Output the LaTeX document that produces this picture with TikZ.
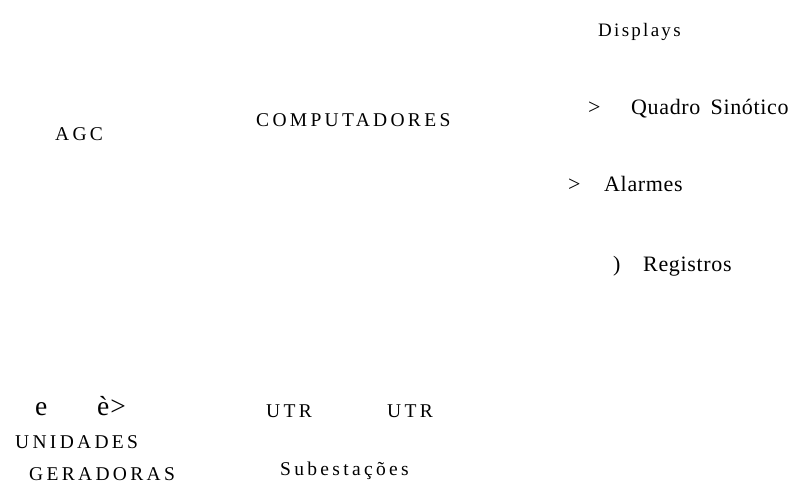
\documentclass[tikz,border=0pt]{standalone}
\usepackage{fontspec}
\setmainfont{Liberation Serif}
\newfontfamily\spaced[LetterSpace=17]{Liberation Serif}
\newfontfamily\midspaced[LetterSpace=12]{Liberation Serif}
\newfontfamily\lightspaced[LetterSpace=3]{Liberation Serif}
\begin{document}
\begin{tikzpicture}[x=1pt,y=1pt,
	every node/.style={inner sep=0pt, anchor=base west},
	caps/.style={font=\spaced\fontsize{19.5}{22}\selectfont},
	item/.style={font=\lightspaced\fontsize{22}{24}\selectfont},
	big/.style={font=\lightspaced\fontsize{27.5}{30}\selectfont}
	]
	\useasboundingbox (0,0) rectangle (792,483);
	% display side
	\node [font=\midspaced\fontsize{19}{22}\selectfont] (displays) at (598,446) {Displays};
	\node [item] (gtquadro) at (588,368) {>};
	\node [item] (quadro) at (631,368) {Quadro\hspace{4pt} Sinótico};
	\node [item] (gtalarmes) at (568,292) {>};
	\node [item] (alarmes) at (604,292) {Alarmes};
	\node [item] (parreg) at (613,212) {)};
	\node [item] (registros) at (643,212) {Registros};
	% centre
	\node [caps] (agc) at (55,343) {AGC};
	\node [caps] (comp) at (256,356) {COMPUTADORES};
	% lower row
	\node [big] (marks) at (35,68) {e\hspace{42pt} è\hspace{1pt}>};
	\node [caps] (unidades) at (15,35) {UNIDADES};
	\node [caps] (geradoras) at (29,3) {GERADORAS};
	\node [caps] (utra) at (266,66) {UTR};
	\node [caps] (utrb) at (387,66) {UTR};
	\node [caps] (subest) at (280,8) {Subestações};
\end{tikzpicture}
\end{document}
